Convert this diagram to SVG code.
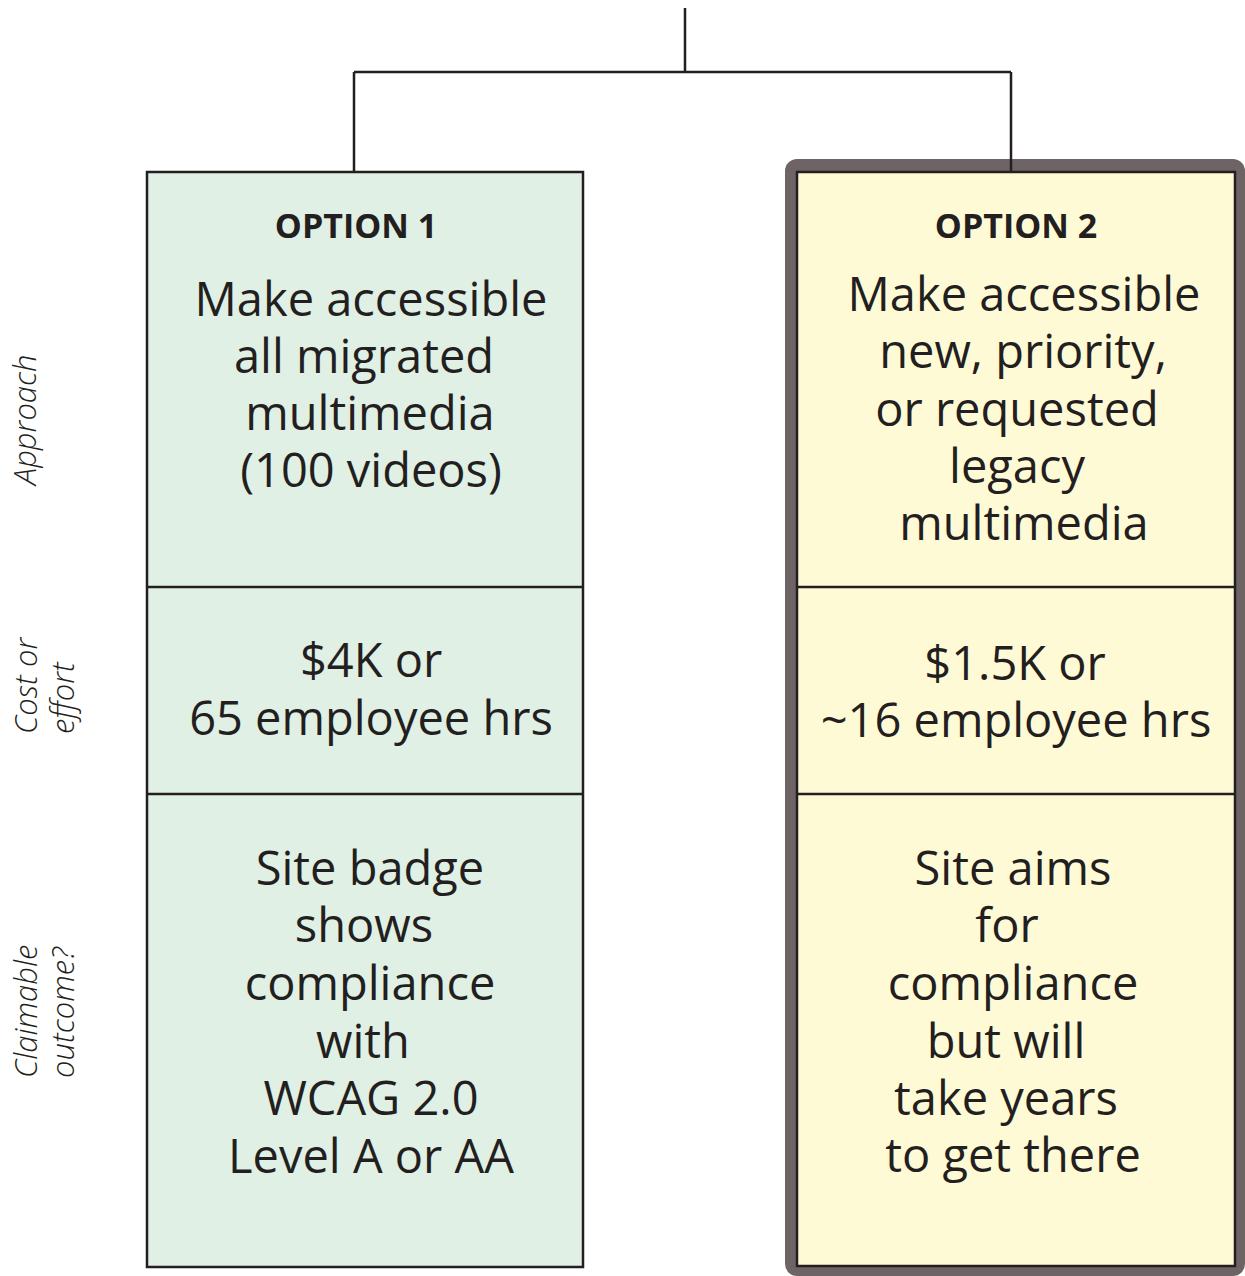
<svg xmlns="http://www.w3.org/2000/svg" width="1245" height="1276" viewBox="0 0 1245 1276">
<style>
.ln{stroke:#231f20;stroke-width:2.5;fill:none}
.box{stroke:#231f20;stroke-width:2.5}
.t{font-family:"Open Sans","Noto Sans",sans-serif;font-size:47px;fill:#231f20;text-anchor:middle}
.h{font-family:"Open Sans","Noto Sans",sans-serif;font-size:34px;font-weight:bold;fill:#231f20;text-anchor:middle}
.s{font-family:"Open Sans","Noto Sans",sans-serif;font-size:31px;font-style:italic;font-weight:300;fill:#231f20}
</style>
<rect width="1245" height="1276" fill="#ffffff"/>
<g id="connectors">
<path class="ln" d="M685 8 V72 M354 72 H1011 M354 72 V172 M1011 72 V173"/>
</g>
<g id="labels">
<text class="s" transform="translate(36,485) rotate(-90)">Approach</text>
<text class="s" transform="translate(37,734) rotate(-90)">Cost or</text>
<text class="s" transform="translate(74,734) rotate(-90)">effort</text>
<text class="s" transform="translate(37,1078) rotate(-90)">Claimable</text>
<text class="s" transform="translate(74,1078) rotate(-90)">outcome?</text>
</g>
<g id="option1">
<rect class="box" x="147" y="172" width="436" height="1095" fill="#e0f0e5"/>
<path class="ln" d="M147 587 H583 M147 794 H583"/>
<text class="h" x="356" y="238">OPTION 1</text>
<text class="t" x="371" y="316">Make accessible</text>
<text class="t" x="364" y="373">all migrated</text>
<text class="t" x="370" y="430">multimedia</text>
<text class="t" x="371" y="487">(100 videos)</text>
<text class="t" x="371" y="677">$4K or</text>
<text class="t" x="371" y="735">65 employee hrs</text>
<text class="t" x="370" y="885">Site badge</text>
<text class="t" x="364" y="942">shows</text>
<text class="t" x="370" y="1000">compliance</text>
<text class="t" x="363" y="1058">with</text>
<text class="t" x="371" y="1115">WCAG 2.0</text>
<text class="t" x="371" y="1173">Level A or AA</text>
</g>
<g id="option2">
<rect x="785" y="159" width="460" height="1117" rx="12" fill="#6e6465"/>
<rect class="box" x="797" y="172" width="438" height="1094" fill="#fffad6"/>
<path class="ln" d="M797 587 H1235 M797 794 H1235"/>
<text class="h" x="1016" y="238">OPTION 2</text>
<text class="t" x="1024" y="311">Make accessible</text>
<text class="t" x="1023" y="368">new, priority,</text>
<text class="t" x="1017" y="426">or requested</text>
<text class="t" x="1017" y="483">legacy</text>
<text class="t" x="1024" y="540">multimedia</text>
<text class="t" x="1015" y="680">$1.5K or</text>
<text class="t" x="1016" y="737">~16 employee hrs</text>
<text class="t" x="1013" y="885">Site aims</text>
<text class="t" x="1007" y="942">for</text>
<text class="t" x="1013" y="1000">compliance</text>
<text class="t" x="1006" y="1058">but will</text>
<text class="t" x="1006" y="1115">take years</text>
<text class="t" x="1013" y="1172">to get there</text>
</g>
<path class="ln" d="M1011 159 V173"/>
</svg>
